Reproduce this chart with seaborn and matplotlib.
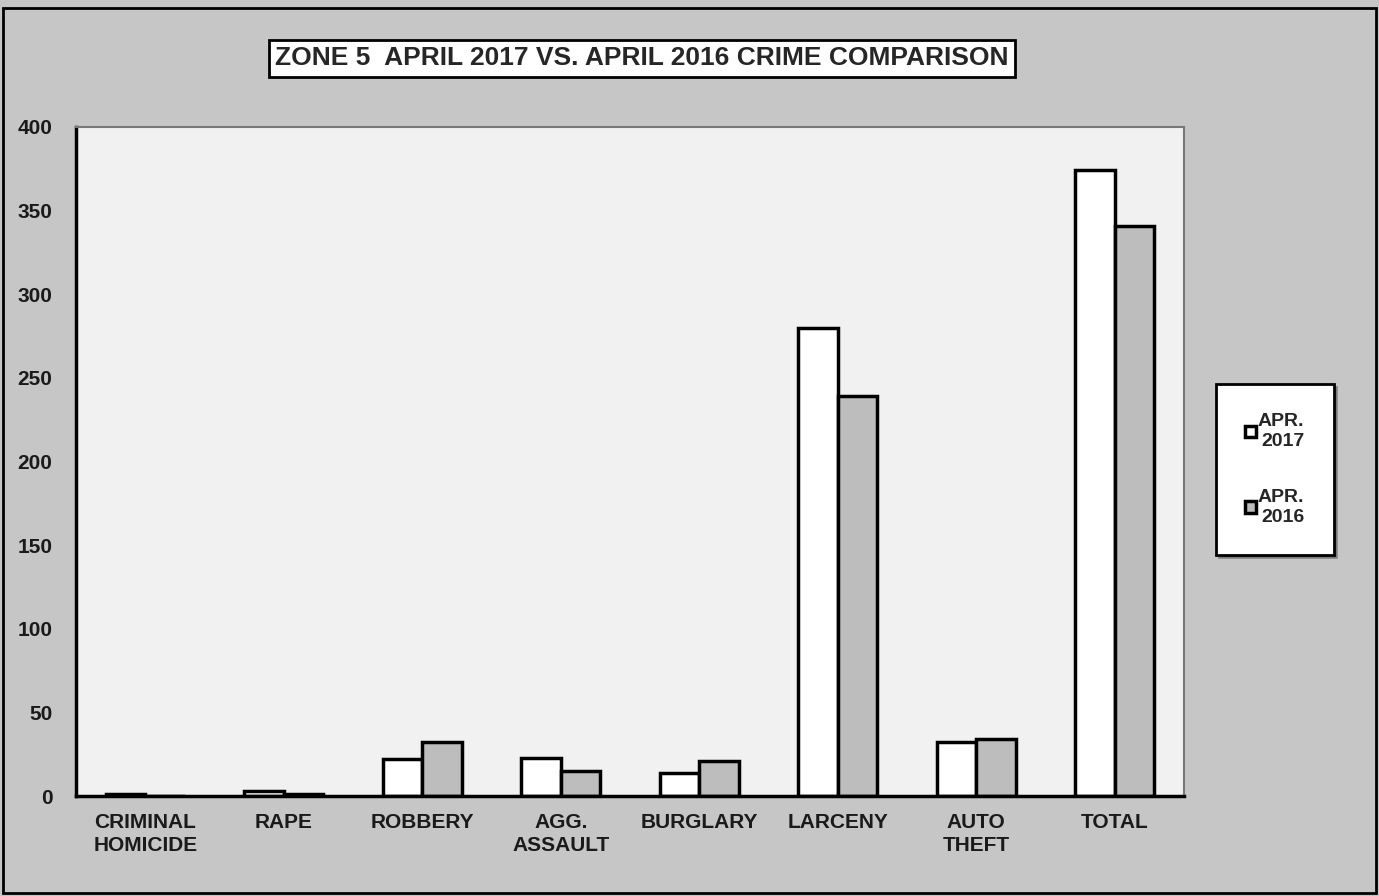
import pandas as pd
import seaborn as sns
import matplotlib.pyplot as plt
from matplotlib.patches import Rectangle
from matplotlib.ticker import FixedLocator

# values
categories = ['CRIMINAL\nHOMICIDE', 'RAPE', 'ROBBERY', 'AGG.\nASSAULT', 'BURGLARY',
              'LARCENY', 'AUTO\nTHEFT', 'TOTAL']
apr_2017 = [1, 3, 22, 23, 14, 280, 32, 374]
apr_2016 = [0, 1, 32, 15, 21, 239, 34, 341]
series_names = ['APR.\n2017', 'APR.\n2016']
y_ticks = [0, 50, 100, 150, 200, 250, 300, 350, 400]

df = pd.DataFrame({
    'crime': categories * 2,
    'count': apr_2017 + apr_2016,
    'period': [series_names[0]] * len(categories) + [series_names[1]] * len(categories),
})

sns.set_style('white')
plt.rcParams['font.family'] = ['Liberation Sans', 'DejaVu Sans']
plt.rcParams['font.weight'] = 'bold'

fig = plt.figure(figsize=(13.79, 8.96), dpi=100, facecolor='#c6c6c6')
ax = fig.add_axes([0.0551, 0.1116, 0.8035, 0.7467])
ax.set_facecolor('#f1f1f1')

sns.barplot(data=df, x='crime', y='count', hue='period', order=categories,
            hue_order=series_names, palette={series_names[0]: 'white', series_names[1]: '#bdbdbd'},
            width=0.57, edgecolor='black', linewidth=2.5, ax=ax)

ax.set_ylim(0, 400)
ax.set_xlim(-0.5, len(categories) - 0.5)
ax.set_yticks(y_ticks)
ax.set_yticklabels([str(v) for v in y_ticks], fontsize=15, fontweight='bold', color='#1a1a1a')
ax.set_xticks(range(len(categories)))
ax.set_xticklabels(categories, fontsize=15, fontweight='bold', linespacing=1.3, color='#1a1a1a')
ax.xaxis.set_minor_locator(FixedLocator([i + 0.5 for i in range(len(categories) - 1)]))
ax.tick_params(axis='x', which='major', length=0, pad=12)
ax.tick_params(axis='x', which='minor', direction='inout', length=10, width=1.2, color='black')
ax.tick_params(axis='y', direction='inout', length=10, width=1.2, color='black', pad=12)
ax.set_xlabel('')
ax.set_ylabel('')
for side in ['left', 'bottom']:
    ax.spines[side].set_color('black')
    ax.spines[side].set_linewidth(2.5)
for side in ['top', 'right']:
    ax.spines[side].set_color('#777777')
    ax.spines[side].set_linewidth(1.5)

# legend box on the right
handles, labels = ax.get_legend_handles_labels()
leg = ax.legend(handles, labels, loc='center', bbox_to_anchor=(0.9245, 0.476),
                bbox_transform=fig.transFigure, fontsize=14, frameon=True, fancybox=False,
                edgecolor='black', facecolor='white', handlelength=0.55, handleheight=0.55,
                handletextpad=0.1, labelspacing=2.0, borderpad=1.5, shadow=True)
leg.get_frame().set_linewidth(2)
for t in leg.get_texts():
    t.set_multialignment('right')

# boxed title
fig.text(0.4656, 0.935, 'ZONE 5  APRIL 2017 VS. APRIL 2016 CRIME COMPARISON',
         ha='center', va='center', fontsize=19, fontweight='bold',
         bbox=dict(boxstyle='square,pad=0.25', facecolor='white', edgecolor='black', linewidth=2))

# outer border
fig.patches.append(Rectangle((0.002, 0.003), 0.996, 0.988, transform=fig.transFigure,
                             fill=False, edgecolor='black', linewidth=2))

fig.savefig('out.png', dpi=100, facecolor=fig.get_facecolor())
